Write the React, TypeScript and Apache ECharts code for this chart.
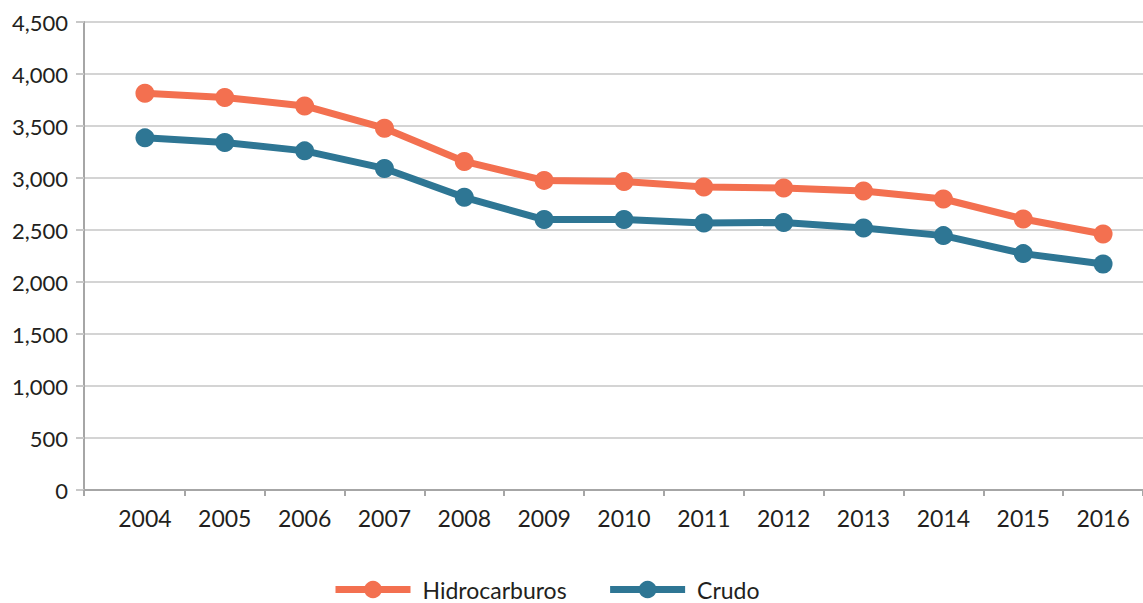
import React, { useEffect, useRef } from "react";
import * as echarts from "echarts";

const years = ["2004", "2005", "2006", "2007", "2008", "2009", "2010", "2011", "2012", "2013", "2014", "2015", "2016"];
const hidrocarburos = [3815, 3774, 3693, 3479, 3159, 2977, 2967, 2913, 2904, 2875, 2798, 2606, 2462];
const crudo = [3386, 3342, 3261, 3092, 2814, 2600, 2600, 2568, 2572, 2520, 2446, 2273, 2174];
const yTicks = { min: 0, max: 4500, interval: 500 };

const ORANGE = "#F37050";
const TEAL = "#2E7694";
const FONT = "Lato";

export default function App() {
  const ref = useRef<HTMLDivElement>(null);
  useEffect(() => {
    if (!ref.current) return;
    const chart = echarts.init(ref.current, null, { renderer: "svg" });
    chart.setOption({
      animation: false,
      backgroundColor: "#ffffff",
      textStyle: { fontFamily: FONT },
      grid: [
        { left: 84, right: -12, top: 22, bottom: 113 },
        { left: 105, right: -2, top: 22, bottom: 113 },
      ],
      xAxis: [
        {
          gridIndex: 0,
          type: "value",
          min: 0,
          max: 1,
          interval: 1,
          axisLine: { show: true, lineStyle: { color: "#a6a6a6", width: 2 } },
          axisTick: { show: true, length: 6, lineStyle: { color: "#a6a6a6", width: 2 } },
          axisLabel: { show: false },
          splitLine: { show: false },
        },
        {
          gridIndex: 1,
          type: "category",
          data: years,
          boundaryGap: true,
          axisLine: { show: false },
          axisTick: {
            show: true,
            length: 6,
            interval: (index: number) => index !== 0 && index < years.length,
            lineStyle: { color: "#a6a6a6", width: 2 },
          },
          axisLabel: { fontSize: 23, color: "#231f20", margin: 16, fontFamily: FONT },
        },
      ],
      yAxis: [
        {
          gridIndex: 0,
          type: "value",
          min: yTicks.min,
          max: yTicks.max,
          interval: yTicks.interval,
          axisLine: { show: true, lineStyle: { color: "#a6a6a6", width: 2 } },
          axisTick: { show: true, length: 8, lineStyle: { color: "#c8c8c8", width: 2 } },
          axisLabel: {
            fontSize: 22,
            color: "#231f20",
            margin: 16,
            fontFamily: FONT,
            formatter: (v: number) => v.toLocaleString("en-US"),
          },
          splitLine: { show: true, lineStyle: { color: "#d4d4d4", width: 2 } },
        },
        {
          gridIndex: 1,
          type: "value",
          min: yTicks.min,
          max: yTicks.max,
          interval: yTicks.interval,
          show: false,
          splitLine: { show: false },
        },
      ],
      legend: {
        left: 332,
        top: 578,
        padding: 0,
        itemWidth: 75,
        itemHeight: 22,
        itemGap: 40,
        lineStyle: { width: 7 },
        textStyle: {
          fontSize: 23,
          lineHeight: 22,
          color: "#231f20",
          fontFamily: FONT,
          padding: [0, 0, 0, 7],
        },
        data: ["Hidrocarburos", "Crudo"],
      },
      series: [
        {
          name: "Hidrocarburos",
          type: "line",
          xAxisIndex: 1,
          yAxisIndex: 1,
          data: hidrocarburos,
          color: ORANGE,
          lineStyle: { width: 7, color: ORANGE },
          symbol: "circle",
          symbolSize: 19,
          itemStyle: { color: ORANGE },
        },
        {
          name: "Crudo",
          type: "line",
          xAxisIndex: 1,
          yAxisIndex: 1,
          data: crudo,
          color: TEAL,
          lineStyle: { width: 7, color: TEAL },
          symbol: "circle",
          symbolSize: 19,
          itemStyle: { color: TEAL },
        },
      ],
    });
    return () => chart.dispose();
  }, []);
  return <div ref={ref} style={{ position: "absolute", left: 0, top: 0, width: 1143, height: 603 }} />;
}
